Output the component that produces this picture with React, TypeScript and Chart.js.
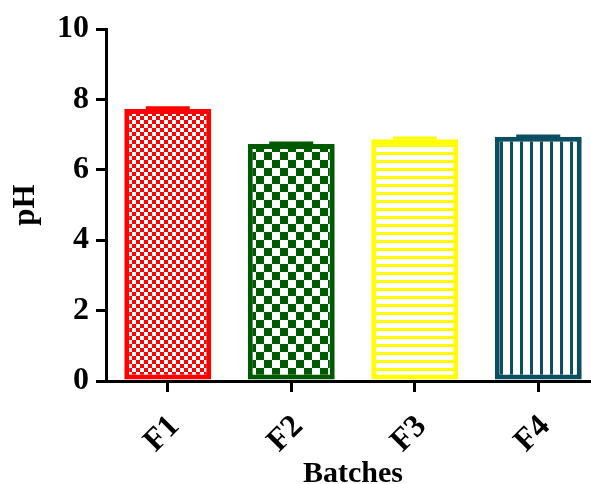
import React, { useEffect, useRef } from "react";
import { Chart, registerables } from "chart.js";

Chart.register(...registerables);

const categories = ["F1", "F2", "F3", "F4"];
const phValues = [7.73, 6.73, 6.87, 6.94];
const phSD = [0.03, 0.03, 0.03, 0.02];
const yTickValues = [0, 2, 4, 6, 8, 10];
const barColors = ["#ff0000", "#005a00", "#ffff00", "#0b4f61"];
const patternKinds = ["smallChecker", "bigChecker", "hLines", "vLines"];

function makePattern(kind: string, color: string): CanvasPattern | string {
  const c = document.createElement("canvas");
  let w = 8;
  let h = 8;
  if (kind === "bigChecker") { w = 16; h = 16; }
  if (kind === "vLines") { w = 10; h = 10; }
  c.width = w;
  c.height = h;
  const ctx = c.getContext("2d");
  if (!ctx) return color;
  ctx.fillStyle = "#ffffff";
  ctx.fillRect(0, 0, w, h);
  ctx.fillStyle = color;
  if (kind === "smallChecker") {
    ctx.fillRect(0, 0, 4, 4);
    ctx.fillRect(4, 4, 4, 4);
  } else if (kind === "bigChecker") {
    ctx.fillRect(0, 0, 8, 8);
    ctx.fillRect(8, 8, 8, 8);
  } else if (kind === "hLines") {
    ctx.fillRect(0, 0, 8, 3);
  } else if (kind === "vLines") {
    ctx.fillRect(0, 0, 3, 10);
  }
  const p = ctx.createPattern(c, "repeat");
  return p || color;
}

const errorBarPlugin = {
  id: "errorBars",
  afterDatasetsDraw(chart: any) {
    const ctx = chart.ctx;
    const meta = chart.getDatasetMeta(0);
    const yScale = chart.scales.y;
    ctx.save();
    meta.data.forEach((bar: any, i: number) => {
      const top = yScale.getPixelForValue(phValues[i] + phSD[i]);
      const base = yScale.getPixelForValue(phValues[i]);
      ctx.strokeStyle = barColors[i];
      ctx.lineWidth = 3;
      ctx.beginPath();
      ctx.moveTo(bar.x - 22, top);
      ctx.lineTo(bar.x + 22, top);
      ctx.moveTo(bar.x, top);
      ctx.lineTo(bar.x, base);
      ctx.stroke();
    });
    ctx.restore();
  },
};

export default function App() {
  const ref = useRef<HTMLCanvasElement | null>(null);

  useEffect(() => {
    if (!ref.current) return;
    const fontFamily = "'Liberation Serif', 'Times New Roman', serif";
    const patterns = categories.map((_, i) => makePattern(patternKinds[i], barColors[i]));
    const chart = new Chart(ref.current, {
      type: "bar",
      data: {
        labels: categories,
        datasets: [
          {
            data: phValues,
            backgroundColor: patterns as any,
            borderColor: barColors,
            borderWidth: 5,
            borderSkipped: false,
            categoryPercentage: 1,
            barPercentage: 0.704,
          },
        ],
      },
      options: {
        animation: false,
        responsive: false,
        maintainAspectRatio: false,
        layout: { padding: { top: 29, right: 10, bottom: 0, left: 0 } },
        plugins: { legend: { display: false }, tooltip: { enabled: false } },
        scales: {
          x: {
            offset: true,
            grid: {
              display: true,
              drawOnChartArea: false,
              drawTicks: true,
              tickLength: 11,
              tickWidth: 3,
              lineWidth: 3,
              tickColor: "#000",
              color: "#000",
              offset: false,
            },
            border: { display: true, width: 3, color: "#000" },
            ticks: {
              autoSkip: false,
              minRotation: 45,
              maxRotation: 45,
              padding: 9,
              labelOffset: 7,
              color: "#000",
              font: { family: fontFamily, size: 32, weight: "bold", lineHeight: 1.825 },
            },
            title: {
              display: true,
              text: "Batches",
              color: "#000",
              padding: { top: 0, bottom: 0 },
              font: { family: fontFamily, size: 30, weight: "bold", lineHeight: 0.63 },
            },
            afterFit(scale: any) {
              scale.height = 103;
            },
          },
          y: {
            min: 0,
            max: 10,
            afterBuildTicks(scale: any) {
              scale.ticks = yTickValues.map((v) => ({ value: v }));
            },
            grid: {
              display: true,
              drawOnChartArea: false,
              drawTicks: true,
              tickLength: 10,
              tickWidth: 3,
              lineWidth: 3,
              tickColor: "#000",
              color: "#000",
            },
            border: { display: true, width: 3, color: "#000" },
            ticks: {
              padding: 7,
              color: "#000",
              font: { family: fontFamily, size: 32, weight: "bold" },
            },
            title: {
              display: true,
              text: "pH",
              color: "#000",
              padding: { top: 7, bottom: 0 },
              font: { family: fontFamily, size: 31, weight: "bold" },
            },
            afterFit(scale: any) {
              scale.width = 106;
            },
          },
        },
      },
      plugins: [errorBarPlugin],
    });
    return () => chart.destroy();
  }, []);

  return (
    <div
      style={{
        position: "fixed",
        left: 0,
        top: 0,
        width: 591,
        height: 484,
        overflow: "hidden",
        background: "#ffffff",
      }}
    >
      <canvas ref={ref} width={610} height={484} style={{ width: 610, height: 484, display: "block" }} />
    </div>
  );
}
